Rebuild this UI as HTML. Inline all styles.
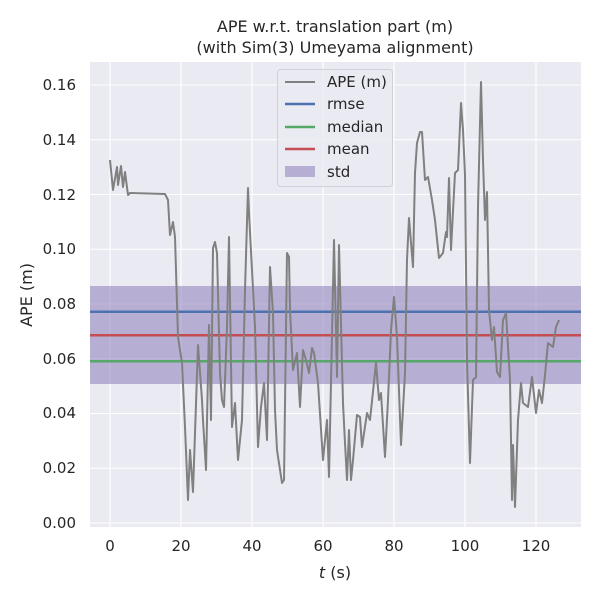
<!DOCTYPE html>
<html><head><style>body{margin:0;background:#fff}svg text{font-family:"DejaVu Sans","Liberation Sans",sans-serif;fill:#262626}</style></head>
<body>
<svg width="600" height="600" xmlns="http://www.w3.org/2000/svg">
<rect x="90" y="62" width="491" height="465" fill="#eaeaf2"/>
<g stroke="#fff" stroke-width="1.1">
<line x1="110" y1="62" x2="110" y2="527"/><line x1="181" y1="62" x2="181" y2="527"/><line x1="252" y1="62" x2="252" y2="527"/><line x1="323" y1="62" x2="323" y2="527"/><line x1="394" y1="62" x2="394" y2="527"/><line x1="465" y1="62" x2="465" y2="527"/><line x1="536" y1="62" x2="536" y2="527"/>
<line x1="90" y1="523" x2="581" y2="523"/><line x1="90" y1="468.25" x2="581" y2="468.25"/><line x1="90" y1="413.5" x2="581" y2="413.5"/><line x1="90" y1="358.75" x2="581" y2="358.75"/><line x1="90" y1="304" x2="581" y2="304"/><line x1="90" y1="249.25" x2="581" y2="249.25"/><line x1="90" y1="194.5" x2="581" y2="194.5"/><line x1="90" y1="139.75" x2="581" y2="139.75"/><line x1="90" y1="85" x2="581" y2="85"/>
</g>
<rect x="90" y="286" width="491" height="98" fill="#8172b3" fill-opacity="0.5"/>
<line x1="90" y1="311.7" x2="581" y2="311.7" stroke="#4c72b0" stroke-width="2.5"/>
<line x1="90" y1="335.3" x2="581" y2="335.3" stroke="#c44e52" stroke-width="2.5"/>
<line x1="90" y1="361.3" x2="581" y2="361.3" stroke="#55a868" stroke-width="2.5"/>
<polyline fill="none" stroke="#808080" stroke-width="2" stroke-linejoin="round" points="110,160 113,190 117,167 118,185 121,166 123,187 125,172 128,195 130,193 165,194 168,200 170,235 173,222 175,237 178,337 182,363 185,427 188,500 190,450 193,492 198,345 202,400 203,420 206,470 209,325 211,420 213,248 215,242 217,253 220,373 222,400 224,407 227,327 229,237 232,427 235,403 238,460 242,420 245,290 248,188 249,213 255,327 258,447 261,407 264,383 267,440 270,267 273,313 275,410 277,450 282,483 284,480 287,253 289,257 290,310 293,370 297,353 300,407 303,350 306,360 309,373 312,348 314,353 318,383 323,460 327,420 329,477 334,240 337,377 339,245 343,403 345,443 347,480 349,430 351,480 353,460 357,415 360,417 362,447 367,413 370,420 376,363 379,400 381,393 385,457 388,400 391,330 394,297 397,337 401,445 405,373 407,260 409,218 411,243 413,267 415,173 417,143 420,132 422,132 425,180 428,177 432,200 435,220 439,258 443,253 446,232 447,237 449,178 451,250 455,173 458,170 461,103 463,130 465,175 467,360 470,463 473,380 476,377 478,207 481,82 483,160 485,220 487,192 489,310 492,340 494,327 497,372 500,377 503,320 506,313 510,380 512,500 513,445 515,507 518,420 521,383 523,403 528,407 532,377 536,413 539,390 542,403 545,375 548,343 553,347 556,327 559,320"/>
<g font-size="15" text-anchor="end">
<text x="76" y="528">0.00</text><text x="76" y="473">0.02</text><text x="76" y="418">0.04</text><text x="76" y="364">0.06</text><text x="76" y="309">0.08</text><text x="76" y="254">0.10</text><text x="76" y="200">0.12</text><text x="76" y="145">0.14</text><text x="76" y="90">0.16</text>
</g>
<g font-size="15" text-anchor="middle">
<text x="110" y="551">0</text><text x="181" y="551">20</text><text x="252" y="551">40</text><text x="323" y="551">60</text><text x="394" y="551">80</text><text x="465" y="551">100</text><text x="536" y="551">120</text>
<text x="335" y="578" font-size="16"><tspan font-style="italic">t</tspan> (s)</text>
<text x="335" y="32" font-size="16">APE w.r.t. translation part (m)</text>
<text x="335" y="53" font-size="16">(with Sim(3) Umeyama alignment)</text>
</g>
<text transform="translate(32,295) rotate(-90)" font-size="16" text-anchor="middle">APE (m)</text>
<rect x="277.5" y="69.5" width="115" height="117" rx="3" fill="#eaeaf2" fill-opacity="0.8" stroke="#d0d0d8"/>
<line x1="285" y1="82" x2="315" y2="82" stroke="#808080" stroke-width="2"/>
<line x1="285" y1="104" x2="315" y2="104" stroke="#4c72b0" stroke-width="2.5"/>
<line x1="285" y1="127" x2="315" y2="127" stroke="#55a868" stroke-width="2.5"/>
<line x1="285" y1="149" x2="315" y2="149" stroke="#c44e52" stroke-width="2.5"/>
<rect x="285" y="166" width="30" height="11" fill="#8172b3" fill-opacity="0.5"/>
<g font-size="15"><text x="327" y="87">APE (m)</text><text x="327" y="109">rmse</text><text x="327" y="132">median</text><text x="327" y="154">mean</text><text x="327" y="177">std</text></g>
</svg>
</body></html>
